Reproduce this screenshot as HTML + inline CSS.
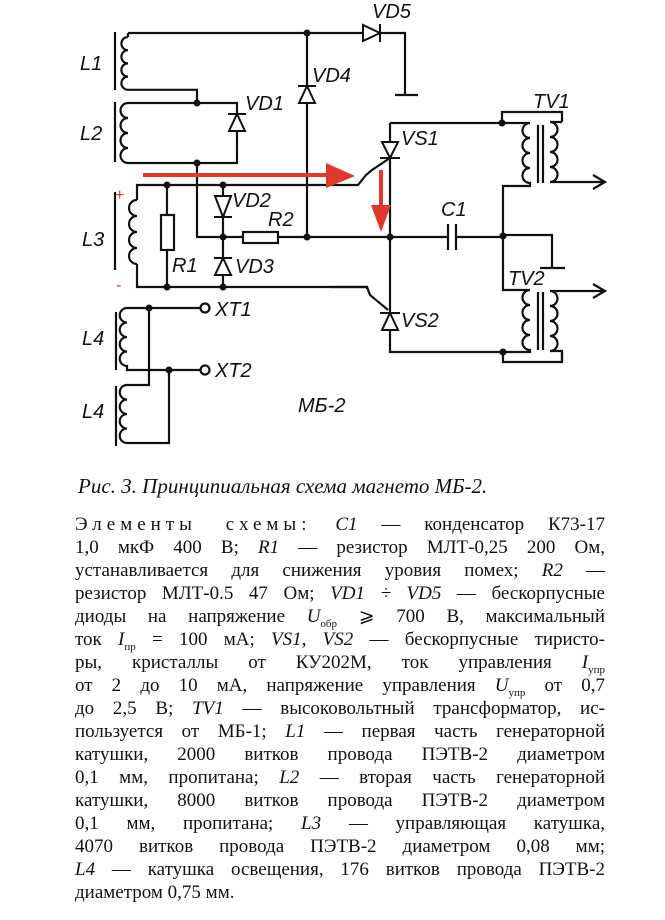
<!DOCTYPE html>
<html><head><meta charset="utf-8"><style>
body{margin:0;background:#fff;}
#w{position:relative;width:665px;height:920px;overflow:hidden;background:#fff;}
svg{position:absolute;left:0;top:0;}
.l{font-family:"Liberation Sans",sans-serif;font-style:italic;font-size:20px;fill:#111;}
.cap{position:absolute;left:78px;top:474px;font-family:"Liberation Serif",serif;font-style:italic;font-size:21px;color:#111;white-space:nowrap;}
.t{position:absolute;left:75px;width:530px;height:23px;line-height:23px;font-family:"Liberation Serif","Noto Serif CJK SC",serif;font-size:19px;color:#111;text-align:justify;text-align-last:justify;white-space:nowrap;}
.t i{font-family:"Liberation Serif",serif;}
sub{font-size:11px;line-height:0;}
</style></head><body><div id="w">
<svg width="665" height="470" viewBox="0 0 665 470">
<g fill="none" stroke="#111" stroke-width="2.2">
<path d="M115 32V90 M115 102V162 M115 192V270 M116 312V370 M116 386V446"/>
<!-- L1 -->
<path d="M128 33h235 M380 33h25v62 M395 95h23"/>
<path d="M128 37a6.6 6.6 0 0 0 0 13.2a6.6 6.6 0 0 0 0 13.2a6.6 6.6 0 0 0 0 13.2a6.6 6.6 0 0 0 0 13.2h69v13 M128 33v4"/>
<!-- L2 -->
<path d="M128 103h109v11 M237 131v32h-109 M128 103a7 7 0 0 0 0 15a7 7 0 0 0 0 15a7 7 0 0 0 0 15a7 7 0 0 0 0 15"/>
<path d="M197 163v74h26"/>
<!-- L3 -->
<path d="M137 200a8 8 0 0 0 0 16a8 8 0 0 0 0 16a8 8 0 0 0 0 16a8 8 0 0 0 0 16"/>
<path d="M137 200v-15h221l8-10 6-5 18-12"/>
<path d="M137 264v23h230v2"/>
<path d="M167 185v30 M167 250v37"/>
<rect x="161" y="215" width="13" height="35"/>
<path d="M223 185v11 M223 217v41 M223 275v12"/>
<path d="M223 237h20 M278 237h112"/>
<rect x="243" y="232" width="35" height="11"/>
<path d="M307 33v53 M307 103v134"/>
<path d="M390 123h112v-11h60v10 M390 123v19 M390 158v155 M390 330v22h113v10h59v-10"/>
<path d="M390 237h58 M456 237h47 M503 235h49v33 M540 268h25"/>
<path d="M448 224v26 M456 224v26"/>
<path d="M330 287h37l3 8 18 15"/>
<!-- TV1 -->
<path d="M503 123h27 M530 123a7.5 7.5 0 0 0 0 15a7.5 7.5 0 0 0 0 15a7.5 7.5 0 0 0 0 15a7.5 7.5 0 0 0 0 15v3h-27v49"/>
<path d="M538 125v58 M543 125v58"/>
<path d="M562 122h-12a7.5 7.5 0 0 1 0 15a7.5 7.5 0 0 1 0 15a7.5 7.5 0 0 1 0 15a7.5 7.5 0 0 1 0 15h55 M593 175l12 7-12 7"/>
<!-- TV2 -->
<path d="M503 235v55h27 M530 290a7.5 7.5 0 0 0 0 15a7.5 7.5 0 0 0 0 15a7.5 7.5 0 0 0 0 15a7.5 7.5 0 0 0 0 15v2h-27"/>
<path d="M538 292v58 M543 292v58"/>
<path d="M605 291h-55a7.5 7.5 0 0 1 0 15a7.5 7.5 0 0 1 0 15a7.5 7.5 0 0 1 0 15a7.5 7.5 0 0 1 0 15h12v11 M593 284l12 7-12 7"/>
<!-- L4 -->
<path d="M127 308a7 7 0 0 0 0 14.5a7 7 0 0 0 0 14.5a7 7 0 0 0 0 14.5a7 7 0 0 0 0 14.5v4h73"/>
<path d="M127 308h73 M149 308v77h-22"/>
<path d="M127 385a7 7 0 0 0 0 14.5a7 7 0 0 0 0 14.5a7 7 0 0 0 0 14.5a7 7 0 0 0 0 14.5h42v-73"/>
<circle cx="205" cy="308" r="4.5" fill="#fff"/>
<circle cx="205" cy="370" r="4.5" fill="#fff"/>
</g>
<g fill="#fff" stroke="#111" stroke-width="2">
<polygon points="363,25 363,41 380,33"/><path d="M380 24v18"/>
<polygon points="229,131 245,131 237,114"/><path d="M228 114h18"/>
<polygon points="299,103 315,103 307,86"/><path d="M298 86h18"/>
<polygon points="215,196 231,196 223,217"/><path d="M214 217h18"/>
<polygon points="215,275 231,275 223,258"/><path d="M214 258h18"/>
<polygon points="382,142 398,142 390,158"/><path d="M380 158h20"/>
<polygon points="382,330 398,330 390,313"/><path d="M380 313h20"/>
</g>
<g fill="#111">
<circle cx="307" cy="33" r="3.5"/><circle cx="197" cy="103" r="3.5"/><circle cx="197" cy="163" r="3.5"/>
<circle cx="167" cy="185" r="3.5"/><circle cx="223" cy="185" r="3.5"/><circle cx="223" cy="237" r="3.5"/>
<circle cx="307" cy="237" r="3.5"/><circle cx="390" cy="237" r="3.5"/><circle cx="167" cy="287" r="3.5"/>
<circle cx="223" cy="287" r="3.5"/><circle cx="502" cy="123" r="3.5"/><circle cx="503" cy="236" r="3.5"/>
<circle cx="503" cy="352" r="3.5"/><circle cx="149" cy="308" r="3.5"/><circle cx="169" cy="370" r="3.5"/>
</g>
<g fill="#e0392b" stroke="#e0392b">
<path d="M143 175H335" stroke-width="4"/><polygon points="326,163 355,176 326,188" stroke="none"/>
<path d="M381 170V210" stroke-width="4"/><polygon points="371,205 391,205 381,232" stroke="none"/>
</g>
<text x="115" y="200" fill="#e0392b" font-family="Liberation Sans" font-size="16">+</text>
<text x="116" y="290" fill="#e0392b" font-family="Liberation Sans" font-size="16">-</text>
<g class="l">
<text x="80" y="70">L1</text><text x="80" y="140">L2</text><text x="82" y="246">L3</text>
<text x="82" y="345">L4</text><text x="82" y="418">L4</text>
<text x="372" y="18">VD5</text><text x="312" y="82">VD4</text><text x="245" y="110">VD1</text>
<text x="232" y="207">VD2</text><text x="268" y="226">R2</text><text x="235" y="273">VD3</text>
<text x="172" y="272">R1</text><text x="401" y="145">VS1</text><text x="401" y="327">VS2</text>
<text x="441" y="216">C1</text><text x="533" y="108">TV1</text><text x="508" y="285">TV2</text>
<text x="215" y="316">XT1</text><text x="215" y="377">XT2</text><text x="298" y="412">МБ-2</text>
</g>
</svg>
<div class="cap">Рис. 3. Принципиальная схема магнето МБ-2.</div>
<div class="t" style="top:513px"><span style="letter-spacing:5px">Элементы схемы:</span> <i>C1</i> — конденсатор К73-17</div>
<div class="t" style="top:536px">1,0 мкФ 400 В; <i>R1</i> — резистор МЛТ-0,25 200 Ом,</div>
<div class="t" style="top:559px">устанавливается для снижения уровия помех; <i>R2</i> —</div>
<div class="t" style="top:582px">резистор МЛТ-0.5 47 Ом; <i>VD1 ÷ VD5</i> — бескорпусные</div>
<div class="t" style="top:605px">диоды на напряжение <i>U</i><sub>обр</sub> ⩾ 700 В, максимальный</div>
<div class="t" style="top:628px">ток <i>I</i><sub>пр</sub> = 100 мА; <i>VS1, VS2</i> — бескорпусные тиристо-</div>
<div class="t" style="top:651px">ры, кристаллы от КУ202М, ток управления <i>I</i><sub>упр</sub></div>
<div class="t" style="top:674px">от 2 до 10 мА, напряжение управления <i>U</i><sub>упр</sub> от 0,7</div>
<div class="t" style="top:697px">до 2,5 В; <i>TV1</i> — высоковольтный трансформатор, ис-</div>
<div class="t" style="top:720px">пользуется от МБ-1; <i>L1</i> — первая часть генераторной</div>
<div class="t" style="top:743px">катушки, 2000 витков провода ПЭТВ-2 диаметром</div>
<div class="t" style="top:766px">0,1 мм, пропитана; <i>L2</i> — вторая часть генераторной</div>
<div class="t" style="top:789px">катушки, 8000 витков провода ПЭТВ-2 диаметром</div>
<div class="t" style="top:812px">0,1 мм, пропитана; <i>L3</i> — управляющая катушка,</div>
<div class="t" style="top:835px">4070 витков провода ПЭТВ-2 диаметром 0,08 мм;</div>
<div class="t" style="top:858px"><i>L4</i> — катушка освещения, 176 витков провода ПЭТВ-2</div>
<div class="t" style="top:881px;text-align-last:left">диаметром 0,75 мм.</div>
</div></body></html>
